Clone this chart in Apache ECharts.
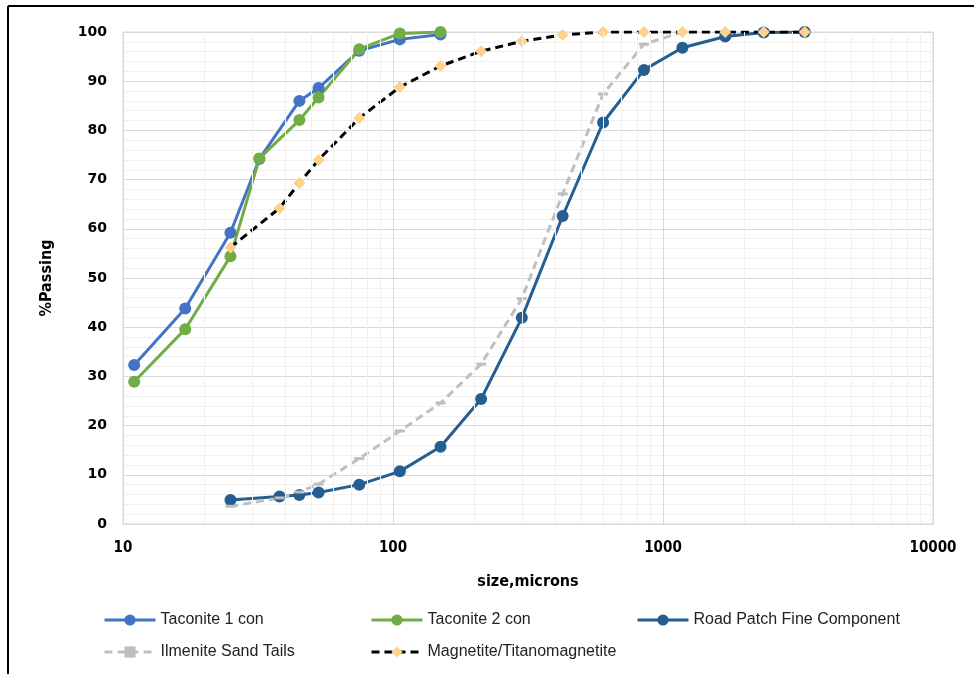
<!DOCTYPE html>
<html>
<head>
<meta charset="utf-8">
<script src="https://cdn.jsdelivr.net/npm/echarts@6/dist/echarts.min.js"></script>
<style>
  html, body { margin: 0; padding: 0; background: #fff; }
  #chart { width: 974px; height: 674px; }
</style>
</head>
<body>
<div id="chart"></div>
<script>
// sieve sizes (microns) and % passing
const taconiteSizes = [11, 17, 25, 32, 45, 53, 75, 106, 150];
const taconite1 = [32.3, 43.8, 59.2, 74.2, 86.0, 88.6, 96.2, 98.5, 99.5];
const taconite2 = [28.9, 39.6, 54.4, 74.3, 82.1, 86.7, 96.5, 99.7, 100];

const roadSizes = [25, 38, 45, 53, 75, 106, 150, 212, 300, 425, 600, 850, 1180, 1700, 2360, 3350];
const roadPatch = [4.9, 5.6, 5.9, 6.4, 8.0, 10.7, 15.7, 25.4, 41.9, 62.6, 81.6, 92.3, 96.8, 99.1, 99.9, 100];

const ilmeniteSizes = [25, 38, 45, 53, 75, 106, 150, 212, 300, 425, 600, 850, 1180];
const ilmenite = [3.6, 5.3, 6.5, 8.1, 13.3, 18.9, 24.6, 32.5, 45.8, 67.1, 87.4, 97.5, 100];

const magnetiteSizes = [25, 38, 45, 53, 75, 106, 150, 212, 300, 425, 600, 850, 1180, 1700, 2360, 3350];
const magnetite = [56.2, 64.2, 69.3, 74.0, 82.5, 88.8, 93.1, 96.1, 98.1, 99.4, 100, 100, 100, 100, 100, 100];

// minor vertical grid lines of the log axis (2..9 in each decade)
const minorX = [20, 30, 40, 50, 60, 70, 80, 90, 200, 300, 400, 500, 600, 700, 800, 900,
  2000, 3000, 4000, 5000, 6000, 7000, 8000, 9000];

const seriesNames = ["Taconite 1 con", "Taconite 2 con", "Road Patch Fine Component",
  "Ilmenite Sand Tails", "Magnetite/Titanomagnetite"];

function pairs(xs, ys) {
  return xs.map((x, i) => [x, ys[i]]);
}

const labelFont = "'DejaVu Sans Condensed', 'DejaVu Sans', sans-serif";
const legendFont = "'Liberation Sans', Arial, sans-serif";

var chart = echarts.init(document.getElementById("chart"));

const legendPos = [
  [103, 612], [370, 612], [636, 612],
  [103, 644], [370, 644]
];
const legends = seriesNames.map((name, i) => ({
  data: [name],
  left: legendPos[i][0],
  top: legendPos[i][1],
  padding: 0,
  itemWidth: 51,
  itemHeight: 14,
  itemGap: 0,
  selectedMode: false,
  lineStyle: { width: 3 },
  textStyle: { fontFamily: legendFont, fontSize: 16, color: "#222" }
}));

var option = {
  animation: false,
  backgroundColor: "#fff",
  legend: legends,
  grid: {
    left: 123,
    right: 41,
    top: 32,
    bottom: 150,
    show: true,
    borderColor: "#D9D9D9",
    borderWidth: 1
  },
  xAxis: {
    type: "log",
    logBase: 10,
    min: 10,
    max: 10000,
    name: "size,microns",
    nameLocation: "middle",
    nameGap: 50,
    nameTextStyle: { fontFamily: labelFont, fontWeight: "bold", fontSize: 16, color: "#000" },
    axisLine: { show: true, lineStyle: { color: "#D9D9D9" } },
    axisTick: { show: false },
    axisLabel: {
      margin: 17,
      fontFamily: labelFont,
      fontWeight: "bold",
      fontSize: 15,
      color: "#000",
      formatter: (v) => String(Math.round(v))
    },
    splitLine: { show: true, lineStyle: { color: "#D9D9D9", width: 1 } }
  },
  yAxis: {
    type: "value",
    min: 0,
    max: 100,
    interval: 10,
    name: "%Passing",
    nameLocation: "middle",
    nameGap: 68,
    nameTextStyle: { fontFamily: labelFont, fontWeight: "bold", fontSize: 16, color: "#000" },
    axisLine: { show: true, lineStyle: { color: "#D9D9D9" } },
    axisTick: { show: false },
    axisLabel: {
      margin: 16,
      fontFamily: "'DejaVu Sans', Verdana, sans-serif",
      fontWeight: "bold",
      fontSize: 14,
      color: "#000"
    },
    splitLine: { show: true, lineStyle: { color: "#D9D9D9", width: 1 } },
    minorTick: { show: false, splitNumber: 5 },
    minorSplitLine: { show: true, lineStyle: { color: "#F0F0F0", width: 1 } }
  },
  graphic: {
    elements: [
      { type: "line", shape: { x1: 8, y1: 6, x2: 974, y2: 6 }, style: { stroke: "#000", lineWidth: 2 } },
      { type: "line", shape: { x1: 8, y1: 6, x2: 8, y2: 674 }, style: { stroke: "#000", lineWidth: 2 } }
    ]
  },
  series: [
    {
      name: "minor-grid",
      type: "line",
      data: [],
      z: 1,
      silent: true,
      markLine: {
        silent: true,
        symbol: "none",
        label: { show: false },
        lineStyle: { color: "#F0F0F0", width: 1, type: "solid" },
        data: minorX.map((v) => ({ xAxis: v }))
      }
    },
    {
      name: seriesNames[0],
      type: "line",
      data: pairs(taconiteSizes, taconite1),
      color: "#4472C4",
      symbol: "circle",
      symbolSize: 12,
      lineStyle: { width: 3 }
    },
    {
      name: seriesNames[1],
      type: "line",
      data: pairs(taconiteSizes, taconite2),
      color: "#70AD47",
      symbol: "circle",
      symbolSize: 12,
      lineStyle: { width: 3 }
    },
    {
      name: seriesNames[2],
      type: "line",
      data: pairs(roadSizes, roadPatch),
      color: "#255E91",
      symbol: "circle",
      symbolSize: 12,
      lineStyle: { width: 3 }
    },
    {
      name: seriesNames[3],
      type: "line",
      data: pairs(ilmeniteSizes, ilmenite),
      color: "#BFBFBF",
      symbol: "rect",
      symbolSize: [10, 3],
      lineStyle: { width: 3, type: [8, 5] }
    },
    {
      name: seriesNames[4],
      type: "line",
      data: pairs(magnetiteSizes, magnetite),
      color: "#FFD28C",
      symbol: "diamond",
      symbolSize: 12,
      itemStyle: { color: "#FFD28C" },
      lineStyle: { width: 3, color: "#000", type: [8, 5] }
    }
  ]
};

chart.setOption(option);
</script>
</body>
</html>
